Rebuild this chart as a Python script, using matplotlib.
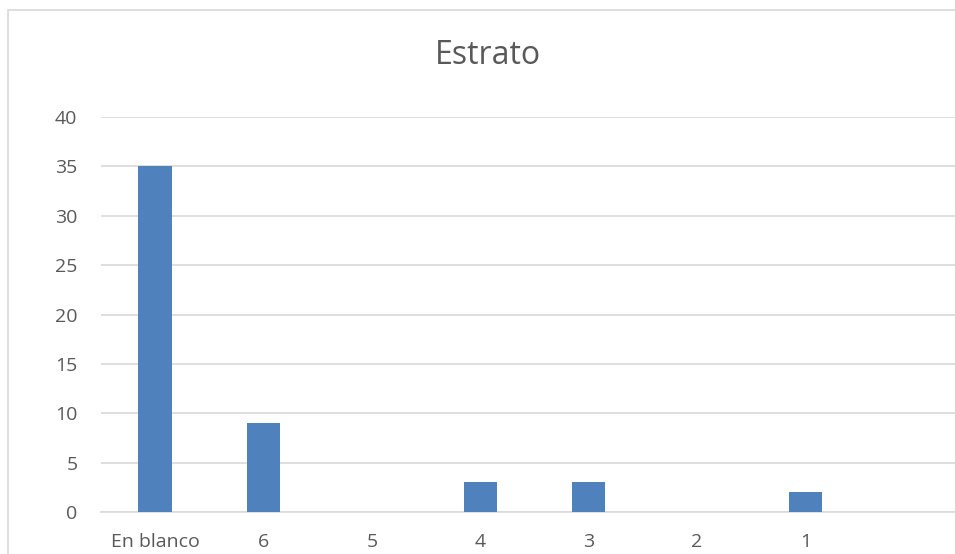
import matplotlib
matplotlib.use("Agg")
from matplotlib import pyplot as plt
from matplotlib.patches import Rectangle

categories = ["En blanco", "6", "5", "4", "3", "2", "1"]
counts = [35, 9, 0, 3, 3, 0, 2]
yticks = [0, 5, 10, 15, 20, 25, 30, 35, 40]

plt.rcParams['font.family'] = ['Open Sans', 'DejaVu Sans']

fig = plt.figure(figsize=(9.55, 5.54), dpi=100)
# outer chart border (extends past the right/bottom edge like the crop)
fig.patches.append(Rectangle((8 / 955, -0.1), 1.2, 1.1 - 10 / 554, transform=fig.transFigure,
                             fill=False, edgecolor='#D9D9D9', linewidth=1.2))

ax = fig.add_axes([101 / 955, 42 / 554, 867 / 955, 395 / 554])
x = range(len(categories))
ax.bar(x, counts, width=0.31, color='#4F81BD', zorder=3)
ax.set_xlim(-0.5, 7.5)
ax.set_ylim(0, 40)
ax.set_yticks(yticks)
ax.set_xticks(list(x))
ax.set_xticklabels(categories)
ax.grid(axis='y', color='#D9D9D9', linewidth=1.2, zorder=0)
for s in ['top', 'right', 'left']:
    ax.spines[s].set_visible(False)
ax.spines['bottom'].set_color('#D9D9D9')
ax.spines['bottom'].set_linewidth(1.2)
ax.tick_params(length=0, labelsize=14, colors='#595959')
ax.tick_params(axis='y', pad=17)
ax.tick_params(axis='x', pad=15)
fig.text(488 / 955, 1 - 55 / 554, 'Estrato', ha='center', va='center', fontsize=23, color='#595959')

fig.savefig('out.png', dpi=100)
